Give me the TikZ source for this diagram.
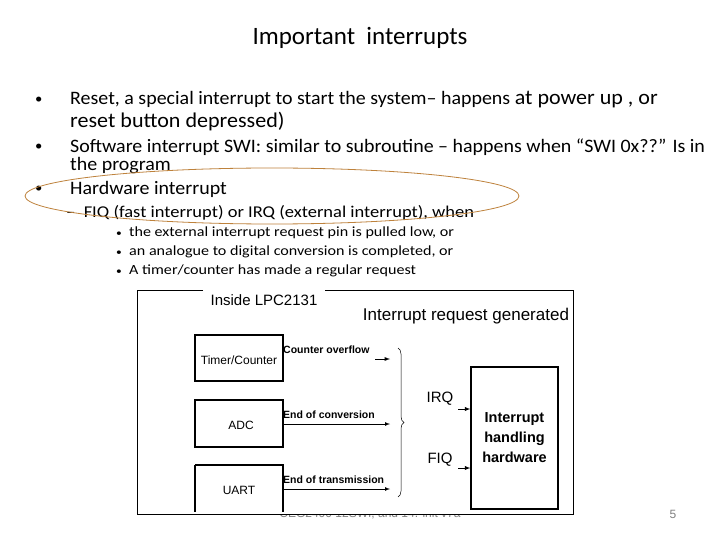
\documentclass[tikz,border=0pt]{standalone}
\usepackage{fontspec}
\setmainfont{Carlito}
\newfontfamily\arial{Liberation Sans}
\newfontfamily\wideA[FakeStretch=1.05]{Carlito}
\newfontfamily\wideB[FakeStretch=1.12]{Carlito}
\newfontfamily\wideC[FakeStretch=1.15]{Carlito}
\usetikzlibrary{decorations.pathreplacing}
\begin{document}
\begin{tikzpicture}[x=1pt,y=-1pt,
  txt/.style={anchor=west,inner sep=0pt},
  dtxt/.style={font=\arial\fontsize{12}{14}\selectfont,inner sep=0pt},
  lbl/.style={font=\arial\bfseries\fontsize{10.5}{12}\selectfont,inner sep=0pt,anchor=west},
  blk/.style={draw,line width=1.3pt},
  arr/.style={-latex,line width=0.9pt}]
\useasboundingbox (0,0) rectangle (720,540);
\fill[white] (0,0) rectangle (720,540);
\node (title) at (360,38) {\fontsize{25}{28}\selectfont Important\ \ interrupts};
\begin{scope}[font=\wideA\fontsize{19}{22}\selectfont]
\node[txt] (b1) at (35,100) {\fontsize{14}{14}\selectfont•};
\node[txt] (t1) at (70,100) {Reset, a special interrupt to start the system– happens {\fontsize{21}{24}\selectfont at power up , or}};
\node[txt] (t1b) at (70,122) {\fontsize{21}{24}\selectfont reset button depressed)};
\node[txt] (b2) at (35,147) {\fontsize{14}{14}\selectfont•};
\node[txt] (t2) at (70,147) {Software interrupt SWI: similar to subroutine – happens when “SWI 0x??” Is in};
\node[txt] (t2b) at (70,166) {the program};
\node[txt] (b3) at (35,189) {\fontsize{14}{14}\selectfont•};
\node[txt] (t3) at (70,189) {Hardware interrupt};
\end{scope}
\node[txt,font=\wideB\fontsize{16.5}{18}\selectfont] (d1) at (66,213) {–\ \ FIQ (fast interrupt) or IRQ (external interrupt), when};
\begin{scope}[font=\wideC\fontsize{14}{16}\selectfont]
\node[txt] (s1) at (116,233) {{\fontsize{10}{10}\selectfont•}\ \ the external interrupt request pin is pulled low, or};
\node[txt] (s2) at (116,252) {{\fontsize{10}{10}\selectfont•}\ \ an analogue to digital conversion is completed, or};
\node[txt] (s3) at (116,271) {{\fontsize{10}{10}\selectfont•}\ \ A timer/counter has made a regular request};
\end{scope}
\draw[color={rgb,255:red,190;green,130;blue,60},line width=0.8pt] (272,196) ellipse [x radius=247, y radius=28];
% footer
\begin{scope}
\clip (0,514) rectangle (720,540);
\node[text=gray,font=\arial\fontsize{12}{14}\selectfont] (foot) at (370,514) {CEG2400 12SWI, and 14. init v7a};
\end{scope}
\node[text=gray,font=\arial\fontsize{12}{14}\selectfont] (pg) at (673,514) {5};
% frame
\draw[line width=0.8pt] (203,290) -- (137,290) -- (137,514) -- (573,514) -- (573,290) -- (325,290);
\node[dtxt,font=\arial\fontsize{15}{18}\selectfont] (inside) at (264,300) {Inside LPC2131};
\node[dtxt,font=\arial\fontsize{17}{20}\selectfont] (irg) at (466,316) {Interrupt request generated};
% blocks
\draw[blk] (195,335) rectangle (283,381);
\node[dtxt,fill=white,inner sep=1pt] (timer) at (239,360) {Timer/Counter};
\draw[blk] (195,400) rectangle (283,447);
\node[dtxt] (adc) at (241,425) {ADC};
\draw[blk] (195,465) -- (283,465) -- (283,512) (195,465) -- (195,512);
\node[dtxt] (uart) at (239,490) {UART};
\coordinate (adcE) at (283,424);
\coordinate (uartE) at (283,489);
\node[lbl] (co) at (283,350) {Counter overflow};
\node[lbl] (eoc) at (283,415) {End of conversion};
\node[lbl] (eot) at (283,480) {End of transmission};
\coordinate (coS) at (375,359);
\coordinate (t1e) at (390,359);
\coordinate (t2e) at (390,424);
\coordinate (t3e) at (390,489);
\draw[arr] (coS) -- (t1e);
\draw[arr,line width=0.7pt] (adcE) -- (t2e);
\draw[arr,line width=0.7pt] (uartE) -- (t3e);
\draw[decorate,decoration={brace,amplitude=6pt},line width=0.5pt] (398,348) -- (398,497);
\node[dtxt,font=\arial\fontsize{15}{18}\selectfont] (irq) at (440,399) {IRQ};
\node[dtxt,font=\arial\fontsize{15}{18}\selectfont] (fiq) at (440,460) {FIQ};
\node[blk,minimum width=87pt,minimum height=142pt,align=center,inner sep=0pt,
  font=\arial\bfseries\fontsize{14.5}{20}\selectfont] (hw) at (514.5,438) {Interrupt\\handling\\hardware};
\coordinate (irqS) at (458,409);
\coordinate (fiqS) at (458,468);
\draw[arr] (irqS) -- (irqS -| hw.west);
\draw[arr] (fiqS) -- (fiqS -| hw.west);
\end{tikzpicture}
\end{document}
